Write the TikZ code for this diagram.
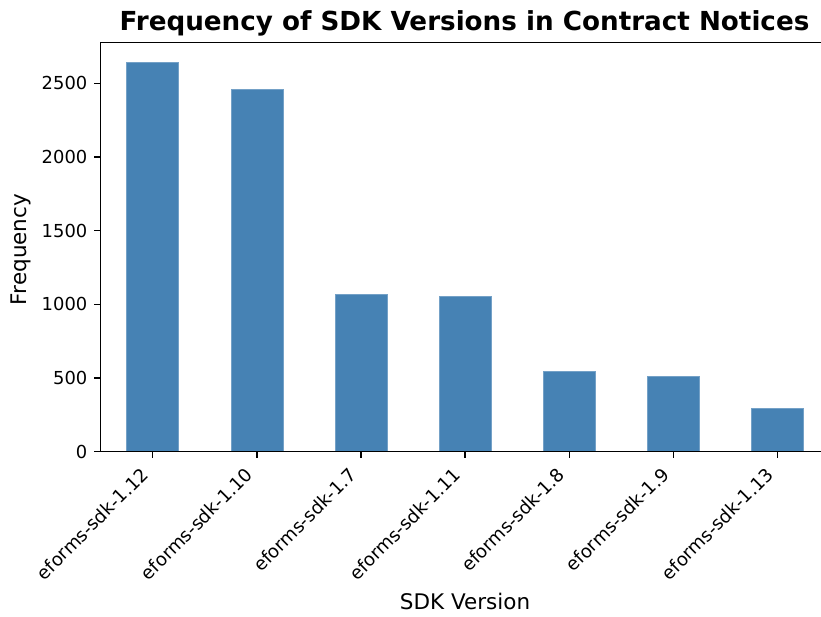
\documentclass[tikz,border=0pt]{standalone}
\usepackage{fontspec}
\setmainfont{DejaVu Sans}
\definecolor{steelblue}{RGB}{70,130,180}
\begin{document}
\begin{tikzpicture}[x=1pt,y=-1pt,
  bar/.style={fill=steelblue, draw=steelblue!75!white, line width=0.5pt},
  spine/.style={line width=1.4pt, line cap=rect},
  tickmark/.style={line width=1.4pt},
  ylab/.style={anchor=east, inner sep=0pt, font=\fontsize{17.9}{20}\selectfont},
  xlab/.style={anchor=base east, rotate=45, inner sep=0pt, font=\fontsize{18.2}{20}\selectfont},
  axislabel/.style={inner sep=0pt, font=\fontsize{21.5}{24}\selectfont},
  titletext/.style={anchor=base, inner sep=0pt, font=\fontsize{26.2}{30}\selectfont\bfseries}]
\useasboundingbox (0,0) rectangle (821,617);

% bars: x position, value, label
\foreach \xc/\v/\lab [count=\i] in {
    152.7/2642/eforms-sdk-1.12,
    256.85/2459/eforms-sdk-1.10,
    361.0/1068/eforms-sdk-1.7,
    465.15/1052/eforms-sdk-1.11,
    569.3/548/eforms-sdk-1.8,
    673.45/514/eforms-sdk-1.9,
    777.6/292/eforms-sdk-1.13} {
  \fill[bar] (\xc-26.04,451.7) rectangle (\xc+26.04,{451.7-0.14736*\v});
  \draw[tickmark] (\xc,451.7) -- (\xc,458.0);
  \node[xlab] (xt\i) at (\xc-3,476) {\lab};
}

% y ticks
\foreach \v [count=\i] in {0,500,1000,1500,2000,2500} {
  \draw[tickmark] (100.5,{451.7-0.14736*\v}) -- (94.2,{451.7-0.14736*\v});
  \node[ylab] (yt\i) at (87.5,{451.7-0.14736*\v}) {\v};
}

% axes frame (left, top, bottom)
\draw[spine] (821,42.7) -- (100.5,42.7) -- (100.5,451.7) -- (821,451.7);

% titles
\node[titletext] (title) at (464.5,31) {Frequency of SDK Versions in Contract Notices};
\node[axislabel, anchor=base] (xlabel) at (465,609.3) {SDK Version};
\node[axislabel, anchor=base, rotate=90] (ylabel) at (26.5,249.5) {Frequency};
\end{tikzpicture}
\end{document}
